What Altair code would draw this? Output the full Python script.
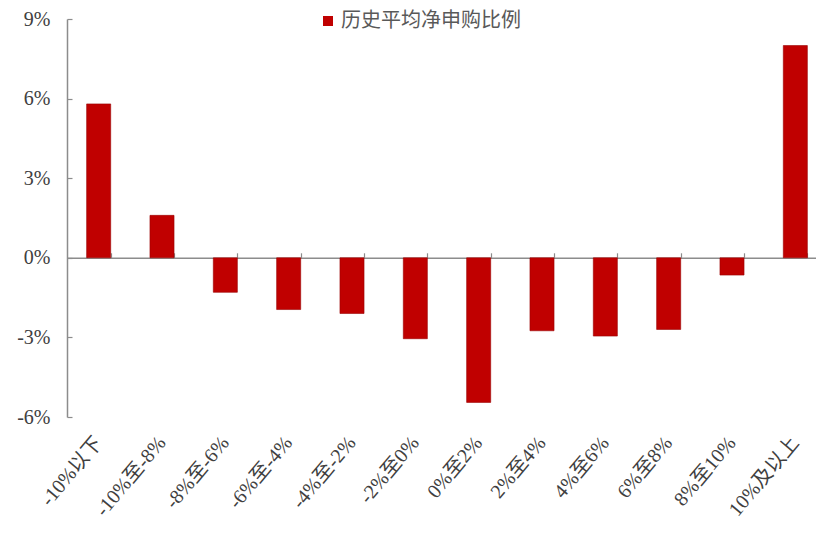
import altair as alt
import pandas as pd

categories = ["-10%以下", "-10%至-8%", "-8%至-6%", "-6%至-4%", "-4%至-2%", "-2%至0%",
              "0%至2%", "2%至4%", "4%至6%", "6%至8%", "8%至10%", "10%及以上"]
values = [5.8, 1.6, -1.3, -1.95, -2.1, -3.05, -5.45, -2.75, -2.95, -2.7, -0.65, 8.0]
series_name = "历史平均净申购比例"
y_ticks = [-6, -3, 0, 3, 6, 9]

df = pd.DataFrame({"cat": categories, "val": values, "series": [series_name] * len(categories)})

W, H = 749, 398
xscale = alt.Scale(domain=categories, range=[0, 760], paddingInner=0.62, paddingOuter=0.31)
yscale = alt.Scale(domain=[-6, 9], nice=False, zero=False)

font = "'Liberation Serif', 'Noto Sans CJK SC', serif"
axis_gray = "#8c8c8c"

bars = alt.Chart(df).mark_bar(color="#C00000", stroke="#9a0000", strokeWidth=0.6).encode(
    x=alt.X("cat:N", sort=categories, scale=xscale, title=None,
            axis=alt.Axis(orient="bottom", domain=False, ticks=False, tickSize=0,
                          labelAngle=-50, labelAlign="right", labelBaseline="middle",
                          labelPadding=22, labelFont=font, labelFontSize=20,
                          labelColor="#404040", labelOverlap=False, labelLimit=0)),
    y=alt.Y("val:Q", scale=yscale, title=None,
            axis=alt.Axis(orient="left", values=y_ticks, domain=False, ticks=False,
                          tickSize=0, grid=False, labelExpr="datum.value + '%'",
                          labelPadding=17, labelFont=font, labelFontSize=20,
                          labelColor="#404040")),
    color=alt.Color("series:N", scale=alt.Scale(range=["#C00000"]),
                    legend=alt.Legend(orient="none", legendX=251, legendY=-8, title=None,
                                      padding=0, symbolType="square", symbolSize=100,
                                      symbolStrokeWidth=0, labelFont="Noto Sans CJK SC",
                                      labelFontSize=20, labelColor="#595959", labelOffset=3,
                                      labelLimit=0)),
)

frame = alt.Chart(df).mark_bar(opacity=0).encode(
    x=alt.X("cat:N", sort=categories, scale=xscale, title=None,
            axis=alt.Axis(orient="top", offset=-238.8, labels=False, domainColor=axis_gray,
                          domainWidth=1.5, tickColor=axis_gray, tickSize=5, tickWidth=1.2,
                          tickBand="extent")),
    y=alt.Y("val:Q", scale=yscale, title=None,
            axis=alt.Axis(orient="right", offset=-W, values=y_ticks, labels=False, grid=False,
                          domainColor=axis_gray, domainWidth=1.5, tickColor=axis_gray,
                          tickSize=5, tickWidth=1.2)),
)

chart = alt.layer(frame, bars).resolve_axis(x="independent", y="independent").properties(
    width=W, height=H,
    autosize=alt.AutoSizeParams(type="none"),
    padding={"left": 67, "top": 19, "right": 0, "bottom": 120},
    background="white",
).configure_view(stroke=None)

chart.save("out.html", embed_options={"renderer": "svg", "actions": False})
